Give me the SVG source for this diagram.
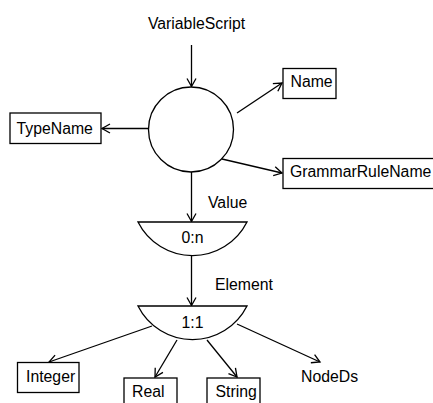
<svg xmlns="http://www.w3.org/2000/svg" width="433" height="403" viewBox="0 0 433 403">
<style>
text{font-family:"Liberation Sans",Arial,sans-serif;font-size:15.8px;fill:#000}
.box{fill:#fff;stroke:#000;stroke-width:1.3}
.shape{fill:#fff;stroke:#000;stroke-width:1.3}
.edge{fill:none;stroke:#000;stroke-width:1.3;marker-end:url(#arr)}
.mid{text-anchor:middle}
</style>
<defs>
<marker id="arr" markerUnits="userSpaceOnUse" markerWidth="12" markerHeight="12" viewBox="0 0 12 12" refX="10" refY="6" orient="auto">
<path d="M2,1.5 L10,6 L2,10.5" fill="none" stroke="#000" stroke-width="1.3"/>
</marker>
</defs>
<g id="connectors">
<line class="edge" x1="191.5" y1="45" x2="191.5" y2="86.5"/>
<line class="edge" x1="237" y1="113" x2="282" y2="83"/>
<line class="edge" x1="148" y1="128.5" x2="102" y2="128.5"/>
<line class="edge" x1="222" y1="159" x2="282" y2="173"/>
<line class="edge" x1="191.5" y1="172" x2="191.5" y2="221.5"/>
<line class="edge" x1="191.5" y1="256" x2="191.5" y2="305.5"/>
<line class="edge" x1="152" y1="326" x2="49" y2="362"/>
<line class="edge" x1="177" y1="340" x2="155" y2="377"/>
<line class="edge" x1="207" y1="340" x2="237" y2="377"/>
<line class="edge" x1="237" y1="324" x2="320" y2="362"/>
<text x="208" y="207.5">Value</text>
<text x="215" y="290">Element</text>
</g>
<g id="VariableScript"><text class="mid" x="196.5" y="29">VariableScript</text></g>
<g id="root"><circle class="shape" cx="191" cy="129.5" r="42.5"/></g>
<g id="Name"><rect class="box" x="283" y="68.5" width="53" height="30"/><text x="290.5" y="87">Name</text></g>
<g id="TypeName"><rect class="box" x="10" y="113" width="91" height="30.5"/><text x="16.5" y="133.5">TypeName</text></g>
<g id="GrammarRuleName"><rect class="box" x="283" y="158.5" width="160" height="30"/><text x="290" y="177">GrammarRuleName</text></g>
<g id="card0n"><path class="shape" d="M138,222 L247,222 A61,61 0 0 1 138,222 Z"/><text class="mid" x="192.5" y="243">0:n</text></g>
<g id="card11"><path class="shape" d="M138,306 L247,306 A61,61 0 0 1 138,306 Z"/><text class="mid" x="192.5" y="327.5">1:1</text></g>
<g id="Integer"><rect class="box" x="17.5" y="362.5" width="61.5" height="30"/><text x="26" y="382">Integer</text></g>
<g id="Real"><rect class="box" x="124" y="378" width="53" height="30"/><text x="132" y="397">Real</text></g>
<g id="String"><rect class="box" x="207" y="378" width="53" height="30"/><text x="215.5" y="397">String</text></g>
<g id="NodeDs"><text x="301" y="382">NodeDs</text></g>
</svg>
